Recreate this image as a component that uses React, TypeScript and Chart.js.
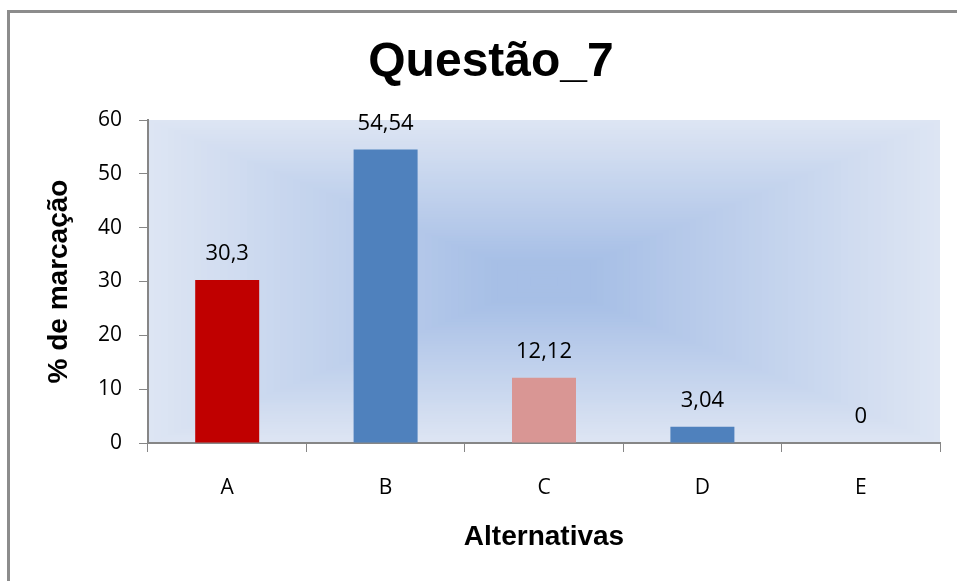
import React, { useEffect, useRef } from 'react';
import { Chart, registerables } from 'chart.js';

Chart.register(...registerables);

const titleText = 'Questão_7';
const xTitle = 'Alternativas';
const yTitle = '% de marcação';
const categories = ['A', 'B', 'C', 'D', 'E'];
const values = [30.3, 54.54, 12.12, 3.04, 0];
const barColors = ['#C00000', '#4F81BD', '#D99694', '#4F81BD', '#4F81BD'];
const yMin = 0;
const yMax = 60;
const yStep = 10;

const W = 957;
const H = 581;

const lerp = (a: number, b: number, t: number) => Math.round(a + (b - a) * t);

const framePlugin = {
  id: 'frameAndBackground',
  beforeDraw(chart: any) {
    const { ctx, chartArea } = chart;
    ctx.save();
    ctx.fillStyle = '#ffffff';
    ctx.fillRect(0, 0, chart.width, chart.height);
    // outer frame
    ctx.strokeStyle = '#8c8c8c';
    ctx.lineWidth = 3;
    ctx.strokeRect(8.5, 11.5, chart.width + 40, chart.height + 40);
    // rectangular gradient in plot area
    const { left, top, right, bottom } = chartArea;
    const w = right - left;
    const h = bottom - top;
    const edge = [221, 229, 243];
    const center = [167, 191, 230];
    const steps = 60;
    for (let i = 0; i < steps; i++) {
      const t = i / steps;
      const ix = (w / 2) * t;
      const iy = (h / 2) * t;
      const c = [0, 1, 2].map((k) => lerp(edge[k], center[k], Math.min(1, t * 1.15)));
      ctx.fillStyle = `rgb(${c[0]},${c[1]},${c[2]})`;
      ctx.fillRect(left + ix, top + iy, w - 2 * ix, h - 2 * iy);
    }
    // title
    ctx.fillStyle = '#000000';
    ctx.font = "bold 48px 'Liberation Sans', Arial, sans-serif";
    ctx.textAlign = 'center';
    ctx.textBaseline = 'alphabetic';
    ctx.fillText(titleText, 491, 76);
    ctx.restore();
  },
};

const labelPlugin = {
  id: 'valueLabels',
  afterDatasetsDraw(chart: any) {
    const { ctx } = chart;
    const meta = chart.getDatasetMeta(0);
    ctx.save();
    ctx.font = "22px 'Open Sans', 'Noto Sans', sans-serif";
    ctx.fillStyle = '#000000';
    ctx.textAlign = 'center';
    ctx.textBaseline = 'middle';
    meta.data.forEach((bar: any, i: number) => {
      const v = chart.data.datasets[0].data[i] as number;
      const txt = String(v).replace('.', ',');
      ctx.fillText(txt, bar.x, bar.y - 26);
    });
    ctx.restore();
  },
};

export default function App() {
  const ref = useRef<HTMLCanvasElement | null>(null);

  useEffect(() => {
    if (!ref.current) return;
    const chart = new Chart(ref.current, {
      type: 'bar',
      data: {
        labels: categories,
        datasets: [
          {
            label: titleText,
            data: values,
            backgroundColor: barColors,
            borderWidth: 0,
            barPercentage: 0.404,
            categoryPercentage: 1,
          },
        ],
      },
      options: {
        responsive: false,
        animation: false,
        devicePixelRatio: 1,
        layout: { padding: { left: 0, right: 17, top: 120, bottom: 0 } },
        plugins: {
          legend: { display: false },
          tooltip: { enabled: false },
          title: { display: false },
        },
        scales: {
          x: {
            grid: {
              display: true,
              offset: true,
              drawOnChartArea: false,
              drawTicks: true,
              tickLength: 9,
              color: '#868686',
            },
            border: { display: true, color: '#868686', width: 2 },
            ticks: {
              color: '#000000',
              padding: 23,
              font: { family: "'Open Sans', 'Noto Sans', sans-serif", size: 21, lineHeight: 1.2 },
            },
            title: {
              display: true,
              text: xTitle,
              color: '#000000',
              font: { family: "'Liberation Sans', Arial, sans-serif", size: 28, weight: 'bold', lineHeight: 1.2 },
              padding: { top: 0, bottom: 27 },
            },
            afterFit(scale: any) {
              scale.height = 138;
            },
          },
          y: {
            min: yMin,
            max: yMax,
            ticks: {
              stepSize: yStep,
              color: '#000000',
              padding: 17,
              font: { family: "'Open Sans', 'Noto Sans', sans-serif", size: 21, lineHeight: 1.2 },
            },
            grid: {
              display: true,
              drawOnChartArea: false,
              drawTicks: true,
              tickLength: 9,
              color: '#868686',
            },
            border: { display: true, color: '#868686', width: 2 },
            title: {
              display: true,
              text: yTitle,
              color: '#000000',
              font: { family: "'Liberation Sans', Arial, sans-serif", size: 28, weight: 'bold', lineHeight: 1.2 },
              padding: { top: 42, bottom: 0 },
            },
            afterFit(scale: any) {
              scale.width = 148;
            },
          },
        },
      },
      plugins: [framePlugin, labelPlugin],
    });
    return () => chart.destroy();
  }, []);

  return (
    <div style={{ position: 'fixed', left: 0, top: 0, width: W, height: H }}>
      <canvas ref={ref} width={W} height={H} style={{ width: W, height: H, display: 'block' }} />
    </div>
  );
}
